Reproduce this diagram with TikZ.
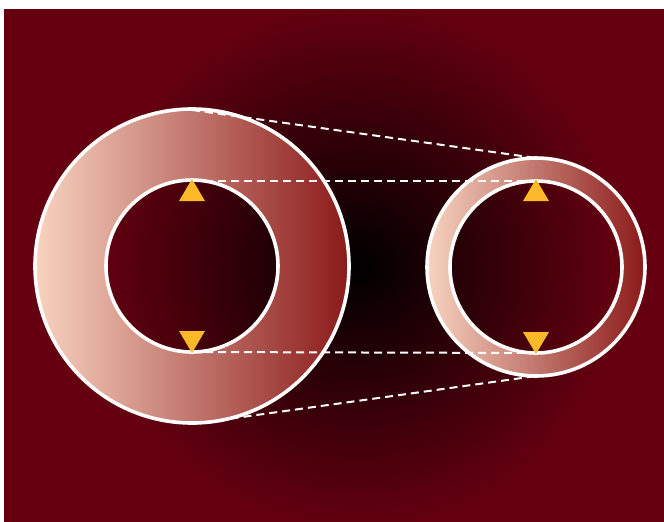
\documentclass[tikz,border=0pt]{standalone}
\definecolor{bgred}{HTML}{650010}
\definecolor{ringlight}{HTML}{F8D3C0}
\definecolor{ringdark}{HTML}{8A1A1A}
\definecolor{tri}{HTML}{FBB829}
\tikzset{
  outline/.style={draw=white, line width=3.6pt},
  guide/.style={draw=white, line width=2pt, dash pattern=on 8pt off 5pt},
  ring/.style={left color=ringlight, right color=ringdark, even odd rule},
  marker/.style={fill=tri},
}
\begin{document}
\begin{tikzpicture}[x=1pt,y=-1pt]
\useasboundingbox (0,0) rectangle (664,522);
% background
\begin{scope}
  \clip (4,9) rectangle (664,522);
  \fill[bgred] (4,9) rectangle (664,522);
  \shade[inner color=black, outer color=bgred] (358,266) circle (265);
\end{scope}
% centers
\coordinate (L) at (192,266);
\coordinate (R) at (536,267);
\coordinate (Ltop) at (192,110);
\coordinate (Lbot) at (192,424);
\coordinate (Rtop) at (536,158);
\coordinate (Rbot) at (536,376);
\coordinate (Lit) at (192,181);
\coordinate (Lib) at (192,352);
\coordinate (Rit) at (536,181);
\coordinate (Rib) at (536,353);
% rings
\shade[ring] (L) circle (157) (L) circle (86);
\shade[ring] (R) circle (109) (R) circle (86);
\draw[outline] (L) circle (157);
\draw[outline] (L) circle (86);
\draw[outline] (R) circle (109);
\draw[outline] (R) circle (86);
% guide lines
\draw[guide] (Ltop) -- (Rtop);
\draw[guide] (Lbot) -- (Rbot);
\draw[guide] (Lit) -- (Rit);
\draw[guide] (Lib) -- (Rib);
% markers
\fill[marker] ([yshift=2pt]Lit) -- ++(13,22) -- ++(-26,0) -- cycle;
\fill[marker] ([yshift=-1pt]Lib) -- ++(13,-22) -- ++(-26,0) -- cycle;
\fill[marker] ([yshift=2pt]Rit) -- ++(13,22) -- ++(-26,0) -- cycle;
\fill[marker] ([yshift=-1pt]Rib) -- ++(13,-22) -- ++(-26,0) -- cycle;
\end{tikzpicture}
\end{document}
